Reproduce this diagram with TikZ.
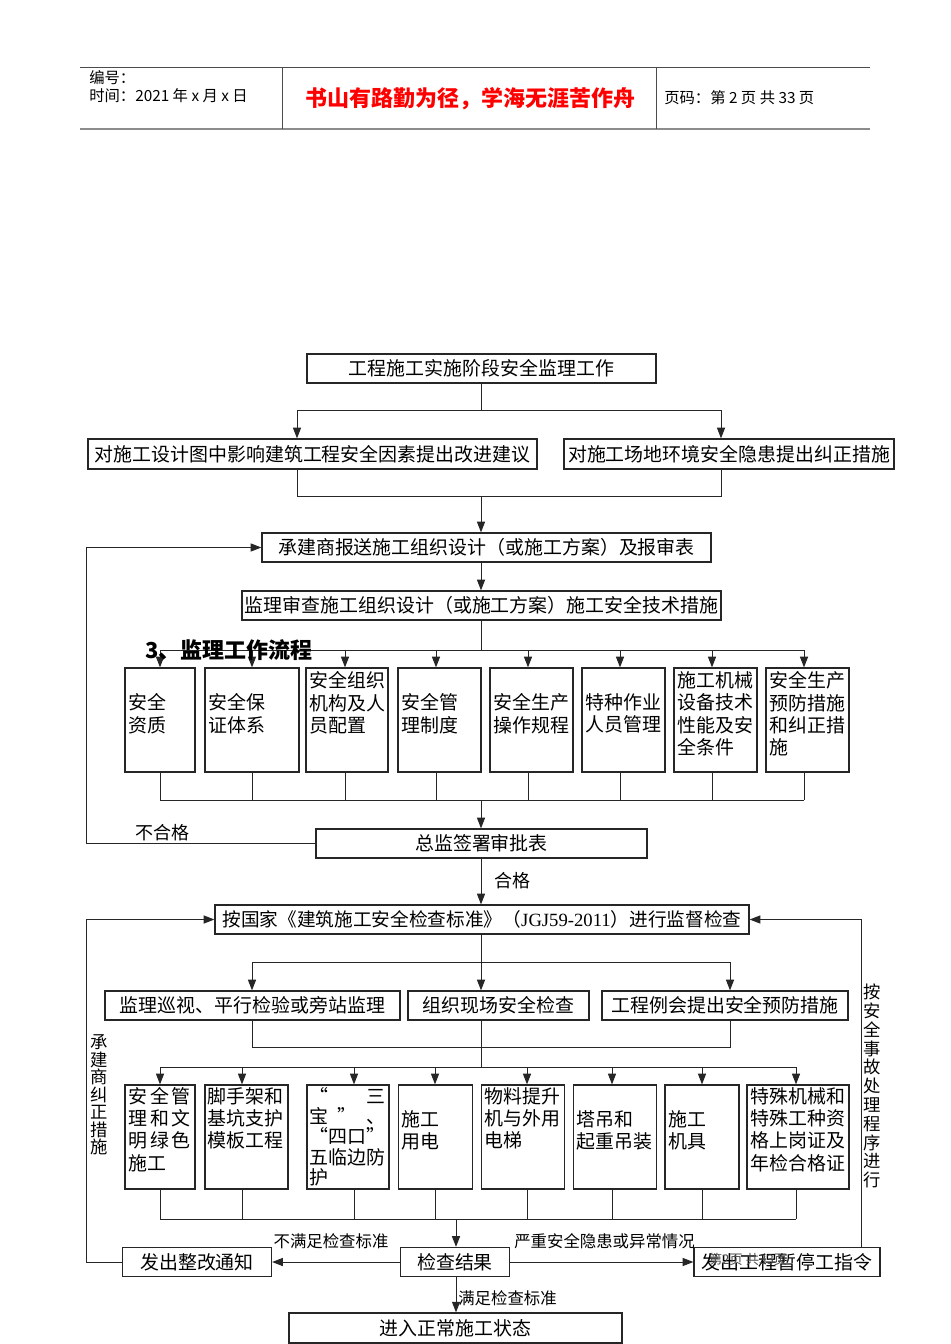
\documentclass[tikz,border=0pt]{standalone}
\usepackage{fontspec}
\setmainfont{Noto Sans CJK SC}
\newfontfamily\tnr{Liberation Serif}
\usetikzlibrary{arrows.meta}
\newcommand{\fs}{\fontsize{14.2}{16.7}\selectfont}
\newcommand{\jt}[2]{\makebox[#1][l]{#2}}
\tikzset{
  box/.style={draw=black!85, line width=0.9pt, minimum height=21.75pt, inner sep=0pt, font=\fs},
  tallbox/.style={draw=black!85, line width=0.9pt, minimum height=78pt, inner sep=0pt},
  ln/.style={line width=0.75pt, draw=black!85},
  arr/.style={ln, -{Triangle[length=8pt,width=6pt]}},
  txt/.style={inner sep=0pt, font=\fs, align=left, text width=80pt, anchor=north west},
  lab/.style={inner sep=0pt, font=\fontsize{12.3}{14}\selectfont},
  labb/.style={inner sep=0pt, font=\fontsize{13.5}{15}\selectfont},
  hdr/.style={inner sep=0pt, anchor=west, font=\fontsize{11.5}{13}\selectfont},
}
\begin{document}
\begin{tikzpicture}[x=0.75pt,y=-0.75pt]
\useasboundingbox (0,0) rectangle (950,1344);
\fill[white] (0,0) rectangle (950,1344);

% header
\draw[black!70, line width=0.75pt] (80,68) -- (870,68);
\draw[black!45, line width=1.6pt] (80,129) -- (870,129);
\draw[black!70, line width=0.75pt] (282,68) -- (282,129);
\draw[black!70, line width=0.75pt] (656,68) -- (656,129);
\node[hdr] (hno) at (89,78) {编号：};
\node[hdr] (htime) at (89,96) {时间：2021 年 x 月 x 日};
\node[inner sep=0pt, text=red, font=\fontsize{16.5}{18}\selectfont\bfseries] (hmotto) at (470,99) {书山有路勤为径，学海无涯苦作舟};
\node[hdr] (hpage) at (664,98) {页码：第 2 页 共 33 页};

% top part
\node[box, minimum width=261.75pt] (top) at (481.5,368.5) {工程施工实施阶段安全监理工作};
\node[box, minimum width=336.75pt, minimum height=22.5pt] (L1) at (312.5,454) {对施工设计图中影响建筑工程安全因素提出改进建议};
\node[box, minimum width=247.5pt, minimum height=22.5pt] (R1) at (729,454) {对施工场地环境安全隐患提出纠正措施};
\node[box, minimum width=336.75pt] (sub) at (486.5,547.5) {承建商报送施工组织设计（或施工方案）及报审表};
\node[box, minimum width=359.25pt] (rev) at (481.5,605.5) {监理审查施工组织设计（或施工方案）施工安全技术措施};

\coordinate (aL) at (297,410);
\coordinate (aR) at (721,410);
\draw[ln] (top.south) -- (top.south |- aL);
\draw[ln] (aL) -- (aR);
\draw[arr] (aL) -- (L1.north -| aL);
\draw[arr] (aR) -- (R1.north -| aR);
\coordinate (bL) at (297,496);
\coordinate (bR) at (721,496);
\coordinate (bM) at (481,496);
\draw[ln] (L1.south -| bL) -- (bL) -- (bR) -- (R1.south -| bR);
\draw[arr] (bM) -- (sub.north -| bM);
\draw[arr] (sub.south -| bM) -- (rev.north -| bM);

% row 1
\node[tallbox, minimum width=52.5pt]  (r1a) at (160,720) {};
\node[tallbox, minimum width=70.5pt]  (r1b) at (252,720) {};
\node[tallbox, minimum width=61.5pt]  (r1c) at (347,720) {};
\node[tallbox, minimum width=62.25pt] (r1d) at (439.5,720) {};
\node[tallbox, minimum width=62.25pt] (r1e) at (531.5,720) {};
\node[tallbox, minimum width=62.25pt] (r1f) at (623.5,720) {};
\node[tallbox, minimum width=62.25pt] (r1g) at (715.5,720) {};
\node[tallbox, minimum width=62.25pt] (r1h) at (807.5,720) {};
\node[txt] (t1a) at (128,693.5) {安全\\资质};
\node[txt] (t1b) at (208,693.5) {安全保\\证体系};
\node[txt] (t1c) at (309,671.5) {安全组织\\机构及人\\员配置};
\node[txt] (t1d) at (401,693.5) {安全管\\理制度};
\node[txt] (t1e) at (493,693.5) {安全生产\\操作规程};
\node[txt] (t1f) at (585,693.5) {特种作业\\人员管理};
\node[txt] (t1g) at (677,671.5) {施工机械\\设备技术\\性能及安\\全条件};
\node[txt] (t1h) at (769,671.5) {安全生产\\预防措施\\和纠正措\\施};

\coordinate (cM) at (481,650);
\draw[ln] (rev.south -| cM) -- (cM);
\foreach \n/\x in {a/160,b/252,c/345,d/436,e/528,f/620,g/712,h/804} {
  \coordinate (c\n) at (\x,650);
  \coordinate (d\n) at (\x,800);
}
\draw[ln] (ca) -- (ch);
\foreach \n in {a,b,c,d,e,f,g,h} {
  \draw[arr] (c\n) -- (r1\n.north -| c\n);
  \draw[ln] (r1\n.south -| d\n) -- (d\n);
}
\draw[ln] (da) -- (dh);
\node[inner sep=0pt, anchor=west, font=\fontsize{16.5}{18}\selectfont\bfseries] (h3) at (145,650) {3、监理工作流程};

% approval
\node[box, minimum width=248.25pt] (appr) at (481.5,843.5) {总监签署审批表};
\coordinate (dM) at (481,800);
\draw[arr] (dM) -- (appr.north -| dM);
\coordinate (lx) at (86,0);
\draw[arr] (appr.west) -- (appr.west -| lx) |- (sub.west);
\node[labb] (nq) at (162,833) {不合格};

\node[box, minimum width=400.5pt, font=\fontsize{14}{16}\selectfont] (std) at (482,919.5) {按国家《建筑施工安全检查标准》（{\tnr JGJ59-2011}）进行监督检查};
\draw[arr] (appr.south -| dM) -- (std.north -| dM);
\node[labb] (q) at (512,881) {合格};

% three boxes
\node[box, minimum width=221.25pt] (p1) at (252.5,1005.5) {监理巡视、平行检验或旁站监理};
\node[box, minimum width=135.75pt] (p2) at (498.5,1005.5) {组织现场安全检查};
\node[box, minimum width=184.5pt]  (p3) at (725,1005.5) {工程例会提出安全预防措施};
\coordinate (eM) at (481,962);
\coordinate (e1) at (252,962);
\coordinate (e3) at (730,962);
\draw[ln] (std.south -| eM) -- (eM);
\draw[ln] (e1) -- (e3);
\draw[arr] (e1) -- (p1.north -| e1);
\draw[arr] (eM) -- (p2.north -| eM);
\draw[arr] (e3) -- (p3.north -| e3);
\coordinate (f1) at (252,1047);
\coordinate (f3) at (730,1047);
\draw[ln] (p1.south -| f1) -- (f1) -- (f3) -- (p3.south -| f3);
\coordinate (gM) at (481,1067);
\draw[ln] (p2.south -| gM) -- (gM);

% row 2
\node[tallbox, minimum width=52.5pt]  (r2a) at (160,1137) {};
\node[tallbox, minimum width=62.25pt] (r2b) at (246.5,1137) {};
\node[tallbox, minimum width=61.5pt]  (r2c) at (348,1137) {};
\node[tallbox, minimum width=55.5pt]  (r2d) at (435.5,1137) {};
\node[tallbox, minimum width=62.25pt] (r2e) at (523,1137) {};
\node[tallbox, minimum width=62.25pt] (r2f) at (615,1137) {};
\node[tallbox, minimum width=55.5pt]  (r2g) at (702,1137) {};
\node[tallbox, minimum width=76.5pt]  (r2h) at (798,1137) {};
\node[txt] (t2a) at (128,1087) {\jt{47pt}{安\hfill 全\hfill 管}\\\jt{47pt}{理\hfill 和\hfill 文}\\\jt{47pt}{明\hfill 绿\hfill 色}\\施工};
\node[txt] (t2b) at (207,1087) {脚手架和\\基坑支护\\模板工程};
\node[txt, font=\fontsize{14.2}{15.2}\selectfont] (t2c) at (309,1087) {\jt{57pt}{“\hfill 三}\\\jt{57pt}{宝\hfill ”\hfill 、}\\“四口”\\五临边防\\护};
\node[txt] (t2d) at (401,1110) {施工\\用电};
\node[txt] (t2e) at (484,1087) {物料提升\\机与外用\\电梯};
\node[txt] (t2f) at (576,1110) {塔吊和\\起重吊装};
\node[txt] (t2g) at (668,1110) {施工\\机具};
\node[txt] (t2h) at (750,1087) {特殊机械和\\特殊工种资\\格上岗证及\\年检合格证};

\foreach \n/\x in {a/160,b/242,c/354,d/435,e/527,f/612,g/702,h/796} {
  \coordinate (g\n) at (\x,1067);
  \coordinate (h\n) at (\x,1219);
}
\draw[ln] (ga) -- (gh);
\foreach \n in {a,b,c,d,e,f,g,h} {
  \draw[arr] (g\n) -- (r2\n.north -| g\n);
  \draw[ln] (r2\n.south -| h\n) -- (h\n);
}
\draw[ln] (ha) -- (hh);

% results
\node[box, minimum width=81.75pt] (res) at (455,1262) {检查结果};
\node[box, minimum width=111.75pt] (zg) at (197,1262) {发出整改通知};
\node[box, minimum width=139.5pt] (tg) at (787,1262) {发出工程暂停工指令};
\node[box, minimum width=249.75pt, minimum height=22.5pt] (norm) at (455.5,1328) {进入正常施工状态};
\coordinate (hM) at (456,1219);
\draw[arr] (hM) -- (res.north -| hM);
\draw[arr] (res.west) -- (zg.east);
\draw[arr] (res.east) -- (tg.west);
\draw[arr] (res.south -| hM) -- (norm.north -| hM);
\draw[arr] (zg.west) -- (zg.west -| lx) |- (std.west);
\coordinate (rx) at (861,0);
\draw[arr] (tg.north -| rx) |- (std.east);
\node[lab] (l1) at (331,1241) {不满足检查标准};
\node[lab] (l2) at (604.5,1241) {严重安全隐患或异常情况};
\node[lab] (l3) at (507.5,1298) {满足检查标准};
\node[inner sep=0pt, font=\fontsize{13}{13.1}\selectfont, align=center] (vl) at (99,1095) {承\\建\\商\\纠\\正\\措\\施};
\node[inner sep=0pt, font=\fontsize{13}{14.1}\selectfont, align=center] (vr) at (872,1086) {按\\安\\全\\事\\故\\处\\理\\程\\序\\进\\行};
\node[inner sep=0pt, text=black!70, font=\fontsize{10}{12}\selectfont] (ft) at (748,1259) {第2页 共33页};
\end{tikzpicture}
\end{document}
